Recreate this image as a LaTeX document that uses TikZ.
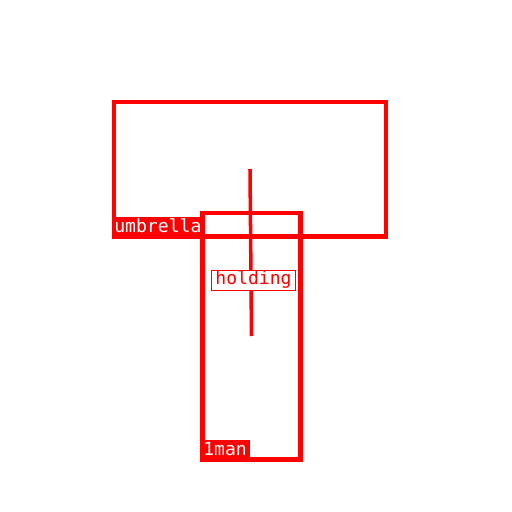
\documentclass[tikz,border=0pt]{standalone}
\usepackage{fontspec}
\setmonofont{DejaVu Sans Mono}
\usetikzlibrary{positioning}
\tikzset{
    objbox/.style={
        draw=red,
        line width=2.3pt,
        inner sep=0pt
    },
    tag/.style={
        fill=red,
        text=white,
        anchor=south west,
        inner xsep=1.6pt,
        inner ysep=1.4pt,
        outer sep=0pt,
        text height=7.6pt,
        text depth=1.8pt,
        font=\ttfamily\fontsize{10.3}{12}\selectfont
    },
    rel/.style={
        draw=red,
        fill=white,
        text=red,
        line width=0.5pt,
        inner xsep=2.2pt,
        inner ysep=0.8pt,
        text height=7.6pt,
        text depth=2.3pt,
        font=\ttfamily\fontsize{10.3}{12}\selectfont
    },
    link/.style={red, line width=2pt}
}

\begin{document}
\begin{tikzpicture}[x=0.02cm, y=-0.02cm]

\useasboundingbox (0,0) rectangle (512,512);

\node[objbox, minimum width=5.46cm, minimum height=2.7cm] (umbrella) at (250,169) {};
\node[objbox, minimum width=1.96cm, minimum height=4.94cm] (man) at (251.5,336) {};

\node[tag] (umbrellatag) at (umbrella.south west) {umbrella};
\node[tag] (mantag) at (man.south west) {1man};

\draw[link] (umbrella.center) -- node[rel, pos=0.66, xshift=2.5*0.02cm, yshift=-0.02cm] (holding) {holding} (man.center);

\end{tikzpicture}
\end{document}
